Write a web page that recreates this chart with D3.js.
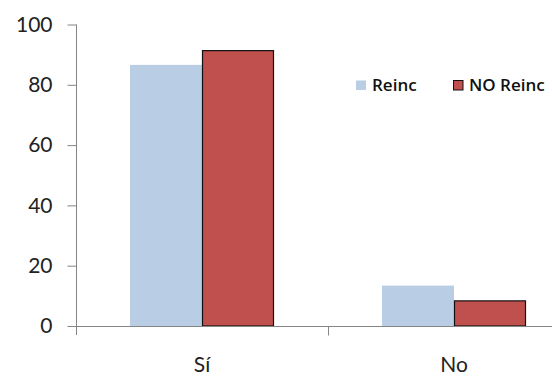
<!DOCTYPE html>
<html><head><meta charset="utf-8">
<script src="https://cdn.jsdelivr.net/npm/d3@7"></script>
<style>body{margin:0;background:#fff}svg{display:block}</style>
</head><body>
<svg id="c" width="552" height="378"></svg>
<script>
const categories = ["Sí", "No"];
const seriesNames = ["Reinc", "NO Reinc"];
const reincValues = [86.6, 13.4];
const noReincValues = [91.5, 8.5];
const yTicks = [0, 20, 40, 60, 80, 100];

const colors = ["#B9CDE5", "#C0504D"];
const font = "Lato, 'Open Sans', sans-serif";
const svg = d3.select("#c");
const x = d3.scaleBand().domain(categories).range([76, 580]).paddingInner(0).paddingOuter(0);
const y = d3.scaleLinear().domain([0, 100]).range([326, 24.5]);
const series = [reincValues, noReincValues];

// y axis
const yAxis = svg.append("g").attr("transform", "translate(76.5,0)")
  .call(d3.axisLeft(y).tickValues(yTicks).tickSize(9).tickPadding(15));
yAxis.select(".domain").attr("stroke", "#868686").attr("d", "M-0,24.5V335");
yAxis.selectAll(".tick line").attr("stroke", "#868686");
yAxis.selectAll("text").attr("font-family", font).attr("font-size", 21).attr("fill", "#222");

// bars
const bw = 72;
categories.forEach((c, i) => {
  const cx = x(c) + x.bandwidth() / 2;
  series.forEach((vals, s) => {
    const x0 = cx - bw + s * bw;
    svg.append("rect")
      .attr("x", s === 1 ? x0 + 0.5 : x0)
      .attr("y", s === 1 ? y(vals[i]) + 0.5 : y(vals[i]))
      .attr("width", s === 1 ? bw - 1 : bw)
      .attr("height", s === 1 ? y(0) - y(vals[i]) - 0.5 : y(0) - y(vals[i]))
      .attr("fill", colors[s])
      .attr("stroke", s === 1 ? "#111" : "none")
      .attr("stroke-width", 1.2);
  });
});

// x axis
const xAxis = svg.append("g").attr("transform", "translate(0,326.5)")
  .call(d3.axisBottom(x).tickSize(0).tickPadding(0));
xAxis.select(".domain").attr("stroke", "#868686").attr("d", "M76,0H552");
xAxis.selectAll(".tick text").attr("font-family", font).attr("font-size", 21).attr("fill", "#222")
  .attr("dy", null).attr("y", 45.5).attr("dominant-baseline", "auto");
// category boundary ticks
[x(categories[1])].forEach(b => {
  xAxis.append("line").attr("x1", b + 0.5).attr("x2", b + 0.5).attr("y1", 0).attr("y2", 9).attr("stroke", "#868686");
});

// legend
const leg = svg.append("g").attr("font-family", "'Open Sans', sans-serif").attr("font-size", 17).attr("font-weight", 600);
const legPos = [356, 453];
seriesNames.forEach((n, s) => {
  leg.append("rect").attr("x", legPos[s] + (s ? 0.5 : 0)).attr("y", 80.5).attr("width", s ? 9.5 : 10).attr("height", 9.5)
    .attr("fill", colors[s]).attr("stroke", s ? "#111" : "none");
  leg.append("text").attr("x", legPos[s] + 16).attr("y", 90.5).text(n).attr("fill", "#111");
});
</script>
</body></html>
